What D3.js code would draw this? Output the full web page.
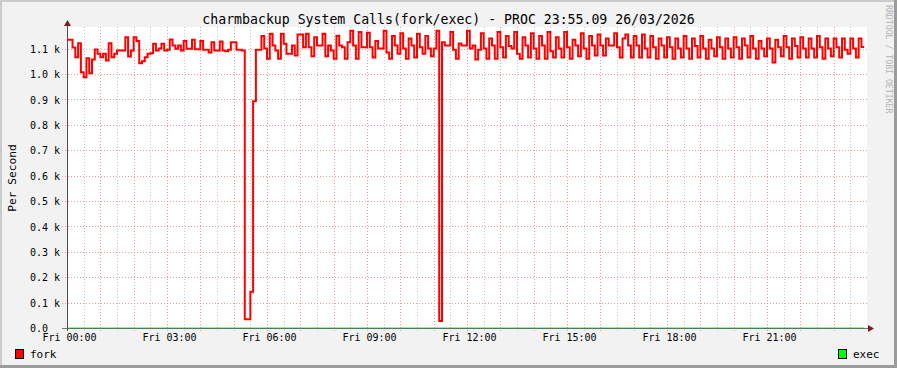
<!DOCTYPE html>
<html>
<head>
<meta charset="utf-8">
<script src="https://cdn.jsdelivr.net/npm/d3@7"></script>
<style>
  html, body { margin: 0; padding: 0; background: #f2f2f2; }
  svg { display: block; }
  text { font-family: "DejaVu Sans Mono", monospace; fill: #000; }
</style>
</head>
<body>
<svg id="chart" width="897" height="368"></svg>
<script>
const title = 'charmbackup System Calls(fork/exec) - PROC 23:55.09 26/03/2026';
const yLabel = 'Per Second';
const watermark = 'RRDTOOL / TOBI OETIKER';

// 5 minute samples, Fri 00:00 -> 23:50
const forkValues = [
  1135, 1135, 1104, 1066, 1121, 1007, 987, 1062, 1003, 1057, 1096, 1080,
  1066, 1080, 1053, 1121, 1066, 1080, 1092, 1092, 1092, 1145, 1069, 1092,
  1145, 1130, 1042, 1050, 1066, 1080, 1082, 1119, 1092, 1100, 1119, 1092,
  1095, 1136, 1112, 1099, 1112, 1092, 1130, 1099, 1099, 1135, 1097, 1097,
  1130, 1095, 1095, 1085, 1125, 1092, 1092, 1128, 1092, 1090, 1095, 1125,
  1125, 1095, 1095, 1092, 34, 34, 143, 893, 1095, 1095, 1150, 1100,
  1060, 1158, 1112, 1092, 1060, 1158, 1119, 1080, 1080, 1112, 1073, 1155,
  1155, 1105, 1158, 1105, 1070, 1145, 1112, 1112, 1158, 1070, 1112, 1092,
  1060, 1151, 1112, 1105, 1060, 1125, 1170, 1112, 1060, 1165, 1105, 1105,
  1162, 1105, 1065, 1130, 1100, 1100, 1170, 1085, 1060, 1150, 1112, 1080,
  1160, 1100, 1060, 1140, 1112, 1065, 1158, 1105, 1080, 1150, 1100, 1070,
  1100, 1170, 28, 1125, 1112, 1112, 1165, 1095, 1060, 1120, 1112, 1112,
  1170, 1100, 1112, 1057, 1095, 1160, 1100, 1060, 1140, 1112, 1060, 1165,
  1105, 1065, 1150, 1110, 1100, 1165, 1080, 1060, 1145, 1112, 1065, 1160,
  1100, 1060, 1150, 1112, 1060, 1165, 1090, 1065, 1145, 1100, 1065, 1165,
  1105, 1060, 1135, 1112, 1070, 1160, 1100, 1060, 1150, 1112, 1073, 1155,
  1112, 1073, 1140, 1112, 1112, 1160, 1105, 1065, 1140, 1155, 1112, 1065,
  1150, 1112, 1065, 1155, 1100, 1065, 1150, 1105, 1060, 1140, 1112, 1065,
  1145, 1105, 1060, 1140, 1100, 1065, 1150, 1100, 1060, 1140, 1110, 1065,
  1150, 1100, 1060, 1135, 1100, 1070, 1145, 1105, 1060, 1140, 1100, 1065,
  1145, 1105, 1060, 1140, 1112, 1065, 1150, 1100, 1060, 1130, 1100, 1070,
  1140, 1100, 1045, 1135, 1105, 1070, 1150, 1105, 1060, 1140, 1110, 1065,
  1145, 1100, 1065, 1140, 1100, 1065, 1150, 1105, 1060, 1140, 1100, 1070,
  1140, 1105, 1065, 1140, 1095, 1080, 1140, 1100, 1065, 1140, 1106
];
const execValues = [
  0, 0, 0, 0, 0, 0, 0, 0, 0, 0, 0, 0, 0, 0, 0, 0, 0, 0, 0, 0, 0, 0, 0, 0,
  0, 0, 0, 0, 0, 0, 0, 0, 0, 0, 0, 0, 0, 0, 0, 0, 0, 0, 0, 0, 0, 0, 0, 0,
  0, 0, 0, 0, 0, 0, 0, 0, 0, 0, 0, 0, 0, 0, 0, 0, 0, 0, 0, 0, 0, 0, 0, 0,
  0, 0, 0, 0, 0, 0, 0, 0, 0, 0, 0, 0, 0, 0, 0, 0, 0, 0, 0, 0, 0, 0, 0, 0,
  0, 0, 0, 0, 0, 0, 0, 0, 0, 0, 0, 0, 0, 0, 0, 0, 0, 0, 0, 0, 0, 0, 0, 0,
  0, 0, 0, 0, 0, 0, 0, 0, 0, 0, 0, 0, 0, 0, 0, 0, 0, 0, 0, 0, 0, 0, 0, 0,
  0, 0, 0, 0, 0, 0, 0, 0, 0, 0, 0, 0, 0, 0, 0, 0, 0, 0, 0, 0, 0, 0, 0, 0,
  0, 0, 0, 0, 0, 0, 0, 0, 0, 0, 0, 0, 0, 0, 0, 0, 0, 0, 0, 0, 0, 0, 0, 0,
  0, 0, 0, 0, 0, 0, 0, 0, 0, 0, 0, 0, 0, 0, 0, 0, 0, 0, 0, 0, 0, 0, 0, 0,
  0, 0, 0, 0, 0, 0, 0, 0, 0, 0, 0, 0, 0, 0, 0, 0, 0, 0, 0, 0, 0, 0, 0, 0,
  0, 0, 0, 0, 0, 0, 0, 0, 0, 0, 0, 0, 0, 0, 0, 0, 0, 0, 0, 0, 0, 0, 0, 0,
  0, 0, 0, 0, 0, 0, 0, 0, 0, 0, 0, 0, 0, 0, 0, 0, 0, 0, 0, 0, 0, 0, 0
];
const stepMinutes = 5;

const yTickValues = [0, 100, 200, 300, 400, 500, 600, 700, 800, 900, 1000, 1100];
const yTickLabels = ['0.0', '0.1 k', '0.2 k', '0.3 k', '0.4 k', '0.5 k', '0.6 k',
  '0.7 k', '0.8 k', '0.9 k', '1.0 k', '1.1 k'];
const xTickMinutes = [0, 180, 360, 540, 720, 900, 1080, 1260];
const xTickLabels = ['Fri 00:00', 'Fri 03:00', 'Fri 06:00', 'Fri 09:00',
  'Fri 12:00', 'Fri 15:00', 'Fri 18:00', 'Fri 21:00'];
const legendNames = ['fork', 'exec'];
const legendColors = ['#ff0000', '#00ff00'];

const W = 897, H = 368;
const svg = d3.select('#chart');

const x = d3.scaleLinear().domain([0, 1440]).range([67, 867]);
const y = d3.scaleLinear().domain([0, 1185]).range([328, 27]);

// background + rrd style frame
svg.append('rect').attr('width', W).attr('height', H).attr('fill', '#f2f2f2');
svg.append('rect').attr('x', 67).attr('y', 27)
  .attr('width', x(1440) - 67).attr('height', 328 - 27).attr('fill', '#fff');
svg.append('rect').attr('x', 0).attr('y', 0).attr('width', W).attr('height', 2).attr('fill', '#cbcbcb');
svg.append('rect').attr('x', 0).attr('y', 0).attr('width', 2).attr('height', H).attr('fill', '#cbcbcb');
svg.append('rect').attr('x', 0).attr('y', H - 3).attr('width', W).attr('height', 3).attr('fill', '#9b9b9b');
svg.append('rect').attr('x', W - 3).attr('y', 0).attr('width', 3).attr('height', H).attr('fill', '#9b9b9b');

// grid
const grid = svg.append('g').attr('shape-rendering', 'crispEdges');
const halfHours = d3.range(1, 48, 2).map(d => d * 30);
const hours = d3.range(1, 24).map(d => d * 60);

grid.selectAll('.minor')
  .data(halfHours)
  .join('line')
  .attr('x1', d => Math.round(x(d)) + 0.5)
  .attr('x2', d => Math.round(x(d)) + 0.5)
  .attr('y1', 27).attr('y2', 331)
  .attr('stroke', '#c8c8c8')
  .attr('stroke-dasharray', '1,2');

grid.selectAll('.major')
  .data(hours)
  .join('line')
  .attr('x1', d => Math.round(x(d)) + 0.5)
  .attr('x2', d => Math.round(x(d)) + 0.5)
  .attr('y1', 27).attr('y2', 331)
  .attr('stroke', '#f09a9a')
  .attr('stroke-dasharray', '1,2');

grid.selectAll('.hline')
  .data(yTickValues.slice(1))
  .join('line')
  .attr('x1', 62).attr('x2', 868)
  .attr('y1', d => Math.round(y(d)) + 0.5)
  .attr('y2', d => Math.round(y(d)) + 0.5)
  .attr('stroke', '#f09a9a')
  .attr('stroke-dasharray', '1,2');

// series
const line = d3.line()
  .x(d => x(d[0]))
  .y(d => y(d[1]))
  .curve(d3.curveStepAfter);

const toPoints = (values) => {
  const pts = values.map((v, i) => [i * stepMinutes, v]);
  pts.push([values.length * stepMinutes, values[values.length - 1]]);
  return pts;
};

svg.append('path')
  .attr('d', line(toPoints(execValues)))
  .attr('fill', 'none')
  .attr('stroke', '#00ff00')
  .attr('stroke-width', 1);

// axes lines + arrows
svg.append('line')
  .attr('x1', 62).attr('x2', 870)
  .attr('y1', 328.5).attr('y2', 328.5)
  .attr('stroke', '#2c4d43').attr('stroke-opacity', 0.7);
svg.append('line')
  .attr('x1', 67.5).attr('x2', 67.5)
  .attr('y1', 331).attr('y2', 23)
  .attr('stroke', '#5a4a4a');
svg.append('path')
  .attr('d', 'M64,26L71,26L67.5,20Z')
  .attr('fill', '#7a1c1c');
svg.append('path')
  .attr('d', 'M868,325L868,332L874,328.5Z')
  .attr('fill', '#7a1c1c');

svg.append('path')
  .attr('d', line(toPoints(forkValues)))
  .attr('fill', 'none')
  .attr('stroke', '#ff0000')
  .attr('stroke-width', 2)
  .attr('stroke-linejoin', 'miter');

// tick labels
const yAxis = d3.axisLeft(y)
  .tickValues(yTickValues)
  .tickFormat((d, i) => yTickLabels[i])
  .tickSize(0);

svg.append('g')
  .attr('transform', 'translate(67,0)')
  .call(yAxis)
  .call(g => g.select('.domain').remove())
  .call(g => g.selectAll('text')
    .attr('x', -37)
    .attr('dy', '0.36em')
    .attr('text-anchor', 'start')
    .attr('fill', '#000')
    .style('font-family', '"DejaVu Sans Mono", monospace')
    .style('font-size', '10px'));

const xAxis = d3.axisBottom(x)
  .tickValues(xTickMinutes)
  .tickFormat((d, i) => xTickLabels[i])
  .tickSize(0)
  .tickPadding(6);

svg.append('g')
  .attr('transform', 'translate(0,328)')
  .call(xAxis)
  .call(g => g.select('.domain').remove())
  .call(g => g.selectAll('text')
    .attr('dx', 2)
    .attr('fill', '#000')
    .style('font-family', '"DejaVu Sans Mono", monospace')
    .style('font-size', '10px'));

// titles
svg.append('text')
  .attr('x', 448.5).attr('y', 24)
  .attr('text-anchor', 'middle')
  .style('font-size', '13.2px')
  .text(title);

svg.append('text')
  .attr('transform', 'translate(15.5,178) rotate(-90)')
  .attr('text-anchor', 'middle')
  .style('font-size', '11.2px')
  .text(yLabel);

svg.append('text')
  .attr('transform', 'translate(886,5) rotate(90)')
  .attr('text-anchor', 'start')
  .style('font-size', '8.2px')
  .style('fill', '#b4b4b4')
  .text(watermark);

// legend
const legendX = [15, 838];
legendNames.forEach((name, i) => {
  svg.append('rect')
    .attr('x', legendX[i] + 0.5).attr('y', 349.5)
    .attr('width', 8).attr('height', 9)
    .attr('fill', legendColors[i])
    .attr('stroke', '#000');
  svg.append('text')
    .attr('x', legendX[i] + 15).attr('y', 358)
    .style('font-size', '11px')
    .text(name);
});
</script>
</body>
</html>
